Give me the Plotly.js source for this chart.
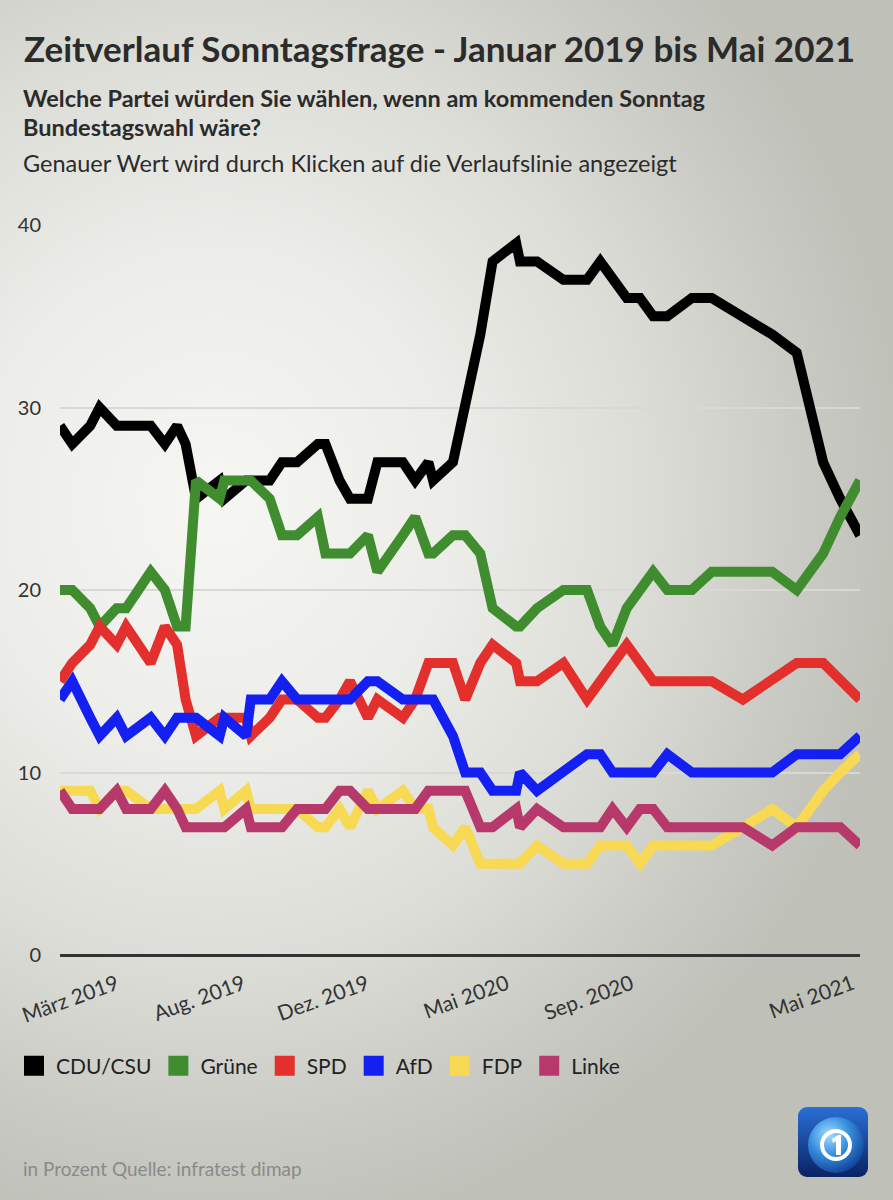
<!DOCTYPE html>
<html>
<head>
<meta charset="utf-8">
<script src="https://cdn.plot.ly/plotly-3.0.1.min.js"></script>
<style>
html,body{margin:0;padding:0;}
body{width:893px;height:1200px;overflow:hidden;
background:radial-gradient(ellipse 78% 62% at 24% 42%, #f6f6f2 0%, #ececE8 35%, #dcddd7 62%, #c9cac3 85%, #bfc0b8 100%);}
#chart{width:893px;height:1200px;}
</style>
</head>
<body>
<div id="chart"></div>
<script>
// Poll dates (Infratest dimap Sonntagsfrage)
const dates = [
"2019-01-10","2019-01-23","2019-02-11","2019-02-21","2019-03-11","2019-03-21","2019-04-16","2019-05-01","2019-05-14","2019-05-23",
"2019-06-03","2019-06-28","2019-07-03","2019-07-26","2019-07-31","2019-08-20","2019-09-02","2019-09-18","2019-10-10","2019-10-18",
"2019-11-02","2019-11-13","2019-12-02","2019-12-12","2020-01-08","2020-01-21","2020-02-04","2020-02-09","2020-03-01","2020-03-14",
"2020-03-30","2020-04-12","2020-05-07","2020-05-11","2020-05-29","2020-06-26","2020-07-21","2020-08-04","2020-08-17","2020-09-01",
"2020-09-15","2020-09-29","2020-10-14","2020-11-09","2020-11-30","2021-01-02","2021-02-02","2021-02-28","2021-03-28","2021-04-15",
"2021-05-06"];
const cdu   = [29,28,29,30,29,29,29,28,29,28, 25,26,25,26,26,26,27,27,28,28, 26,25,25,27,27,26,27,26,27,30, 34,38,39,38,38,37,37,38,37,36, 36,35,35,36,36,35,34,33,27,25, 23];
const gruene= [20,20,19,18,19,19,21,20,18,18, 26,25,26,26,26,25,23,23,24,22, 22,22,23,21,23,24,22,22,23,23, 22,19,18,18,19,20,20,18,17,19, 20,21,20,20,21,21,21,20,22,24, 26];
const spd   = [15,16,17,18,17,18,16,18,17,14, 12,13,13,13,12,13,14,14,13,13, 14,15,13,14,13,14,16,16,16,14, 16,17,16,15,15,16,14,15,16,17, 16,15,15,15,15,14,15,16,16,15, 14];
const afd   = [14,15,13,12,13,12,13,12,13,13, 13,12,13,12,14,14,15,14,14,14, 14,14,15,15,14,14,14,14,12,10, 10, 9, 9,10, 9,10,11,11,10,10, 10,10,11,10,10,10,10,11,11,11, 12];
const fdp   = [ 9, 9, 9, 8, 9, 9, 8, 8, 8, 8,  8, 9, 8, 9, 8, 8, 8, 8, 7, 7,  8, 7, 9, 8, 9, 8, 8, 7, 6, 7,  5, 5, 5, 5, 6, 5, 5, 6, 6, 6,  5, 6, 6, 6, 6, 7, 8, 7, 9,10, 11];
const linke = [ 9, 8, 8, 8, 9, 8, 8, 9, 8, 7,  7, 7, 7, 8, 7, 7, 7, 8, 8, 8,  9, 9, 8, 8, 8, 8, 9, 9, 9, 9,  7, 7, 8, 7, 8, 7, 7, 7, 8, 7,  8, 8, 7, 7, 7, 7, 6, 7, 7, 7,  6];

const parties = ["CDU/CSU","Grüne","SPD","AfD","FDP","Linke"];
const colors  = ["#000000","#3f8d2f","#e3302c","#1420f2","#f7d953","#b7396b"];
const seriesList = [cdu, gruene, spd, afd, fdp, linke];

const tickVals  = ["2019-03-11","2019-07-23","2019-12-01","2020-04-27","2020-09-06","2021-04-28"];
const tickTexts = ["März 2019","Aug. 2019","Dez. 2019","Mai 2020","Sep. 2020","Mai 2021"];
const yTicks = [0,10,20,30,40];

const FONT = "Lato, 'Open Sans', sans-serif";
const W = 893, H = 1200;
const L = 60, R = 860, T = 225, B = 955;
const px = x => (x - L) / (R - L);
const py = y => (B - y) / (B - T);

const traces = [];
seriesList.forEach((s, i) => {
  traces.push({
    x: dates, y: s, type: "scatter", mode: "lines", name: parties[i],
    line: {color: colors[i], width: 10, shape: "linear"},
    showlegend: false, legendgroup: parties[i], hoverinfo: "x+y+name"
  });
});
// legend entries (square swatches)
seriesList.forEach((s, i) => {
  traces.push({
    x: [null], y: [null], type: "scatter", mode: "markers", name: parties[i],
    marker: {symbol: "square", size: 22, color: colors[i], line: {color: colors[i], width: 4}},
    showlegend: true, legendgroup: parties[i], hoverinfo: "skip"
  });
});

const logoSvg = "<svg xmlns='http://www.w3.org/2000/svg' width='70' height='70' viewBox='0 0 70 70'>" +
 "<defs><linearGradient id='b' x1='0' y1='0' x2='0' y2='1'><stop offset='0' stop-color='#2a6fd6'/><stop offset='1' stop-color='#0a2262'/></linearGradient>" +
 "<radialGradient id='g' cx='0.38' cy='0.32' r='0.75'><stop offset='0' stop-color='#a8dcff'/><stop offset='0.45' stop-color='#3b93e0'/><stop offset='1' stop-color='#0c3a94'/></radialGradient></defs>" +
 "<rect x='0' y='0' width='70' height='70' rx='9' fill='url(#b)'/>" +
 "<circle cx='38' cy='38' r='28' fill='url(#g)'/>" +
 "<circle cx='38' cy='38' r='14' fill='none' stroke='#ffffff' stroke-width='4'/>" +
 "<path d='M34 32 L40 28 L43 28 L43 48 L38 48 L38 34 L35 36 Z' fill='#ffffff'/>" +
 "</svg>";

const layout = {
  width: W, height: H,
  paper_bgcolor: "rgba(0,0,0,0)", plot_bgcolor: "rgba(0,0,0,0)",
  margin: {l: L, r: W - R, t: T, b: H - B, pad: 0},
  font: {family: FONT, color: "#2b2b2b"},
  title: {
    text: "Zeitverlauf Sonntagsfrage - Januar 2019 bis Mai 2021",
    font: {family: FONT, size: 35, weight: 700, color: "#2b2b2b"},
    xref: "container", yref: "container", x: 24 / W, xanchor: "left",
    y: 1 - 50 / H, yanchor: "middle"
  },
  xaxis: {
    type: "date", range: [dates[0], dates[dates.length - 1]],
    tickmode: "array", tickvals: tickVals, ticktext: tickTexts,
    tickangle: -20, tickfont: {family: FONT, size: 21, color: "#333333"},
    showgrid: false, showline: false, zeroline: false,
    ticks: "outside", ticklen: 8, tickcolor: "rgba(0,0,0,0)",
    fixedrange: true
  },
  yaxis: {
    range: [0, 40], tickmode: "array", tickvals: yTicks,
    tickfont: {family: FONT, size: 20, color: "#333333"},
    showgrid: true, gridcolor: "#d8d8d4", gridwidth: 2,
    zeroline: true, zerolinecolor: "#333333", zerolinewidth: 2.5,
    showline: false, ticks: "outside", ticklen: 14, tickcolor: "rgba(0,0,0,0)",
    fixedrange: true
  },
  showlegend: true,
  legend: {
    orientation: "h", x: px(12), xanchor: "left", y: py(1066), yanchor: "middle",
    itemwidth: 34,
    font: {family: FONT, size: 21, color: "#222222"},
    bgcolor: "rgba(0,0,0,0)", itemclick: false, itemdoubleclick: false
  },
  annotations: [
    {text: "Welche Partei würden Sie wählen, wenn am kommenden Sonntag", xref: "paper", yref: "paper",
     x: px(21), y: py(98), xanchor: "left", yanchor: "middle", showarrow: false,
     font: {family: FONT, size: 23.5, weight: 700, color: "#2b2b2b"}},
    {text: "Bundestagswahl wäre?", xref: "paper", yref: "paper",
     x: px(21), y: py(127), xanchor: "left", yanchor: "middle", showarrow: false,
     font: {family: FONT, size: 23.5, weight: 700, color: "#2b2b2b"}},
    {text: "Genauer Wert wird durch Klicken auf die Verlaufslinie angezeigt", xref: "paper", yref: "paper",
     x: px(21), y: py(163), xanchor: "left", yanchor: "middle", showarrow: false,
     font: {family: FONT, size: 23.5, color: "#2b2b2b"}},
    {text: "in Prozent Quelle: infratest dimap", xref: "paper", yref: "paper",
     x: px(21), y: py(1168), xanchor: "left", yanchor: "middle", showarrow: false,
     font: {family: FONT, size: 19, color: "#8a8a8a"}}
  ],
  images: [{
    source: "data:image/svg+xml;charset=utf-8," + encodeURIComponent(logoSvg),
    xref: "paper", yref: "paper", x: px(798), y: py(1107),
    sizex: 70 / (R - L), sizey: 70 / (B - T), sizing: "stretch",
    xanchor: "left", yanchor: "top", layer: "above"
  }]
};

Plotly.newPlot("chart", traces, layout, {displayModeBar: false, staticPlot: false, responsive: false});
</script>
</body>
</html>
